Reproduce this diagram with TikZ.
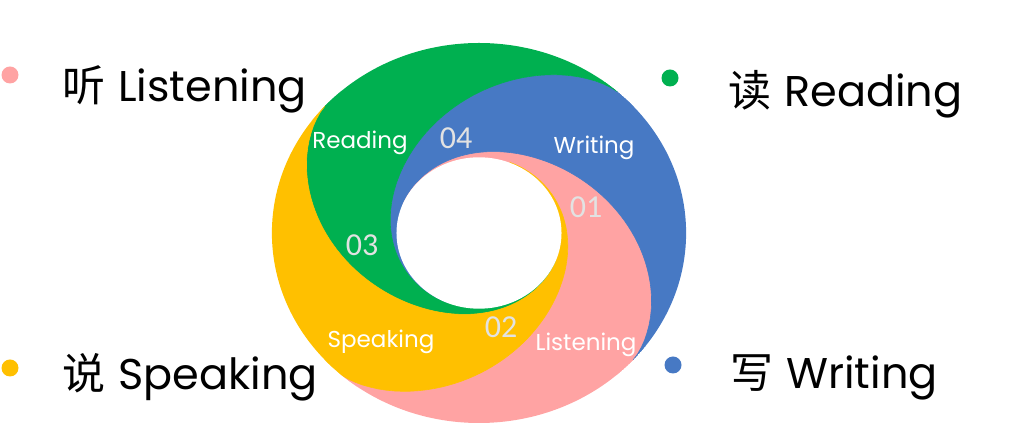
\documentclass[tikz,border=0pt]{standalone}
\usepackage{fontspec}
\setmainfont{Poppins}
\newfontfamily\cjk{Noto Sans CJK SC}
\newfontfamily\numfont{Carlito}
\usepackage{tikz}
\usetikzlibrary{positioning, calc}
\definecolor{pinkseg}{HTML}{FFA3A3}
\definecolor{blueseg}{HTML}{4779C4}
\definecolor{greenseg}{HTML}{00B050}
\definecolor{yellowseg}{HTML}{FFC000}
\definecolor{numgray}{HTML}{E2E2E2}
\tikzstyle{bullet} = [circle, inner sep=0pt, minimum size=8.5pt]
\tikzstyle{skill} = [anchor=base west, inner sep=0pt, font=\fontsize{21.5}{24}\selectfont]
\tikzstyle{seglabel} = [text=white, inner sep=0pt, font=\fontsize{11.5}{13}\selectfont]
\tikzstyle{segnum} = [text=numgray, inner sep=0pt, font=\numfont\fontsize{16}{18}\selectfont]

\begin{document}
\begin{tikzpicture}[x=0.5pt, y=0.5pt, declare function={spr(\t)=75.7+114.3*exp(-((\t/61.5)^1.5));}]
    \useasboundingbox (0,0) rectangle (1017,427);

    % Ring of four swirl segments
    \begin{scope}[shift={(479,194)}, xscale=1.09]
        \clip (0,0) circle (190);
        \foreach \a/\col in {228/pinkseg, -42/blueseg, 48/greenseg, 138/yellowseg}
            \fill[\col, draw=\col, line width=0.3pt] ({\a+45}:260)
                -- plot[domain=0.1:200, samples=90] ({\a+90+\x}:{spr(\x)})
                -- plot[domain=0.1:200, samples=90] ({\a+200.1-\x}:{spr(200.1-\x)}) -- cycle;
        \fill[white] (0,0) circle (75.7);
    \end{scope}

    % Segment labels
    \node (readseg) [seglabel] at (360,284) {Reading};
    \node (writeseg) [seglabel] at (594,279) {Writing};
    \node (speakseg) [seglabel] at (381,85) {Speaking};
    \node (listenseg) [seglabel] at (586,82) {Listening};
    \node (num04) [segnum] at (456,289) {04};
    \node (num01) [segnum] at (586,220) {01};
    \node (num03) [segnum] at (362,182) {03};
    \node (num02) [segnum] at (501,100) {02};

    % Legend
    \node (dotlisten) [bullet, fill=pinkseg] at (10,352) {};
    \node (dotread) [bullet, fill=greenseg] at (670,349) {};
    \node (dotspeak) [bullet, fill=yellowseg] at (10,59) {};
    \node (dotwrite) [bullet, fill=blueseg] at (673,62) {};
    \node (listen) [skill] at (62,325) {{\cjk 听}\hspace{0.3em}Listening};
    \node (read) [skill] at (728,320) {{\cjk 读}\hspace{0.3em}Reading};
    \node (speak) [skill] at (62,37) {{\cjk 说}\hspace{0.3em}Speaking};
    \node (write) [skill] at (730,38) {{\cjk 写}\hspace{0.3em}Writing};
\end{tikzpicture}
\end{document}
